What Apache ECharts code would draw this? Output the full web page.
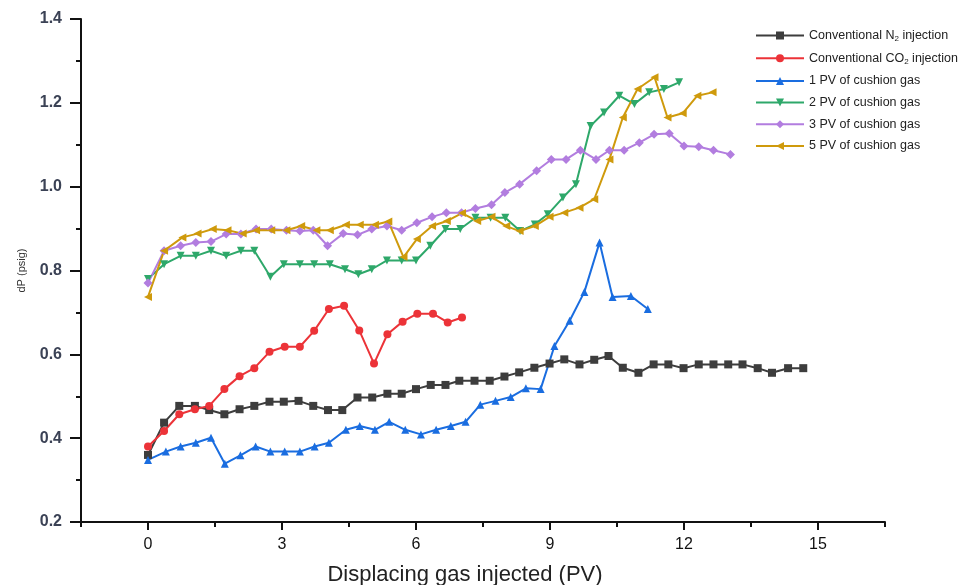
<!DOCTYPE html>
<html>
<head>
<meta charset="utf-8">
<script src="https://cdn.jsdelivr.net/npm/echarts@6/dist/echarts.min.js"></script>
<style>
  html, body { margin: 0; padding: 0; background: #fff; }
  #chart { width: 965px; height: 585px; }
</style>
</head>
<body>
<div id="chart"></div>
<script>
// Pressure drop vs. injected displacing gas
const seriesNames = [
  'Conventional N2 injection',
  'Conventional CO2 injection',
  '1 PV of cushion gas',
  '2 PV of cushion gas',
  '3 PV of cushion gas',
  '5 PV of cushion gas'
];

const n2X = [0, 0.36, 0.70, 1.05, 1.37, 1.71, 2.05, 2.38, 2.72, 3.04, 3.37, 3.70, 4.03, 4.35, 4.69,
  5.02, 5.36, 5.68, 6.00, 6.33, 6.66, 6.97, 7.31, 7.65, 7.98, 8.31, 8.65, 8.99, 9.32, 9.66,
  9.99, 10.31, 10.63, 10.98, 11.32, 11.65, 11.99, 12.33, 12.66, 12.99, 13.31, 13.65, 13.97, 14.33, 14.67];
const n2Y = [0.36, 0.437, 0.477, 0.477, 0.467, 0.457, 0.469, 0.477, 0.487, 0.487, 0.489, 0.477, 0.467, 0.467, 0.497,
  0.497, 0.506, 0.506, 0.517, 0.527, 0.527, 0.537, 0.537, 0.537, 0.547, 0.557, 0.568, 0.578, 0.588, 0.576,
  0.587, 0.596, 0.568, 0.556, 0.576, 0.576, 0.567, 0.576, 0.576, 0.576, 0.576, 0.567, 0.556, 0.567, 0.567];

const co2X = [0, 0.36, 0.70, 1.05, 1.37, 1.71, 2.05, 2.38, 2.72, 3.06, 3.40, 3.72, 4.05, 4.39, 4.73,
  5.06, 5.36, 5.70, 6.03, 6.38, 6.71, 7.03];
const co2Y = [0.38, 0.417, 0.457, 0.469, 0.477, 0.517, 0.548, 0.567, 0.606, 0.618, 0.618, 0.656, 0.708, 0.716, 0.657,
  0.578, 0.648, 0.678, 0.697, 0.697, 0.676, 0.688];

const pv1X = [0, 0.40, 0.73, 1.07, 1.41, 1.72, 2.07, 2.41, 2.74, 3.06, 3.40, 3.73, 4.05, 4.43, 4.74,
  5.08, 5.40, 5.76, 6.11, 6.45, 6.78, 7.11, 7.44, 7.78, 8.12, 8.46, 8.79, 9.10, 9.44, 9.77,
  10.11, 10.40, 10.81, 11.19];
const pv1Y = [0.348, 0.368, 0.380, 0.389, 0.401, 0.339, 0.359, 0.380, 0.368, 0.368, 0.368, 0.380, 0.389, 0.420, 0.429,
  0.420, 0.439, 0.420, 0.409, 0.420, 0.429, 0.439, 0.480, 0.489, 0.498, 0.519, 0.517, 0.620, 0.680, 0.749,
  0.867, 0.737, 0.739, 0.708];

const pv2X = [0, 0.36, 0.73, 1.07, 1.41, 1.75, 2.08, 2.38, 2.74, 3.04, 3.40, 3.72, 4.07, 4.41, 4.71,
  5.01, 5.35, 5.68, 6.00, 6.32, 6.66, 6.99, 7.33, 7.67, 8.00, 8.33, 8.66, 8.95, 9.29, 9.58,
  9.91, 10.21, 10.55, 10.89, 11.22, 11.55, 11.89];
const pv2Y = [0.78, 0.815, 0.835, 0.835, 0.847, 0.835, 0.847, 0.847, 0.785, 0.815, 0.815, 0.815, 0.815, 0.803, 0.791,
  0.803, 0.824, 0.824, 0.824, 0.859, 0.899, 0.899, 0.926, 0.926, 0.926, 0.894, 0.910, 0.934, 0.974, 1.006,
  1.145, 1.177, 1.217, 1.197, 1.225, 1.233, 1.249];

const pv3X = [0, 0.36, 0.73, 1.07, 1.41, 1.75, 2.08, 2.42, 2.76, 3.10, 3.40, 3.70, 4.02, 4.37, 4.69,
  5.01, 5.35, 5.68, 6.02, 6.36, 6.68, 7.02, 7.33, 7.69, 7.99, 8.32, 8.70, 9.03, 9.36, 9.68,
  10.03, 10.33, 10.66, 11.00, 11.33, 11.67, 12.00, 12.33, 12.66, 13.04];
const pv3Y = [0.77, 0.847, 0.859, 0.867, 0.869, 0.887, 0.887, 0.899, 0.899, 0.896, 0.894, 0.896, 0.859, 0.888, 0.885,
  0.899, 0.906, 0.896, 0.914, 0.928, 0.938, 0.938, 0.948, 0.957, 0.986, 1.006, 1.038, 1.065, 1.065, 1.087,
  1.065, 1.087, 1.087, 1.105, 1.125, 1.127, 1.097, 1.095, 1.087, 1.077];

const pv5X = [0, 0.36, 0.77, 1.11, 1.45, 1.78, 2.12, 2.42, 2.76, 3.10, 3.43, 3.77, 4.07, 4.43, 4.74,
  5.08, 5.38, 5.72, 6.02, 6.36, 6.69, 7.03, 7.37, 7.69, 8.02, 8.32, 8.66, 8.99, 9.32, 9.66,
  9.99, 10.33, 10.63, 10.96, 11.34, 11.63, 11.97, 12.30, 12.64];
const pv5Y = [0.737, 0.847, 0.879, 0.888, 0.899, 0.896, 0.888, 0.896, 0.896, 0.896, 0.906, 0.896, 0.896, 0.909, 0.909,
  0.909, 0.917, 0.832, 0.875, 0.906, 0.918, 0.937, 0.918, 0.928, 0.906, 0.894, 0.906, 0.928, 0.938, 0.950,
  0.970, 1.065, 1.165, 1.233, 1.261, 1.165, 1.175, 1.217, 1.225];

const xMajorTicks = [0, 3, 6, 9, 12, 15];
const xMinorTicks = [-1.5, 1.5, 4.5, 7.5, 10.5, 13.5, 16.5];

const colors = ['#3d3d3d', '#ec3338', '#1a6de0', '#2ea86a', '#b27ddf', '#cf9a0c'];
const symbols = ['rect', 'circle', 'triangle', 'triangle', 'diamond', 'triangle'];
const rotations = [0, 0, 0, 180, 0, 90];
const xs = [n2X, co2X, pv1X, pv2X, pv3X, pv5X];
const ys = [n2Y, co2Y, pv1Y, pv2Y, pv3Y, pv5Y];

const sans = "'Liberation Sans', Arial, sans-serif";

const series = seriesNames.map((name, i) => ({
  name: name,
  type: 'line',
  xAxisIndex: 0,
  data: xs[i].map((x, j) => [x, ys[i][j]]),
  symbol: symbols[i],
  symbolRotate: rotations[i],
  symbolSize: symbols[i] === 'diamond' ? 9 : 8,
  lineStyle: { color: colors[i], width: 2 },
  itemStyle: { color: colors[i] },
  emphasis: { disabled: true }
}));

const chart = echarts.init(document.getElementById('chart'), null, { renderer: 'canvas' });
chart.setOption({
  animation: false,
  backgroundColor: '#fff',
  grid: { left: 81, right: 80, top: 19, bottom: 63, containLabel: false, outerBoundsMode: 'none' },
  legend: {
    orient: 'vertical',
    left: 750,
    top: 24,
    itemWidth: 48,
    itemHeight: 10,
    itemGap: 8.7,
    data: seriesNames,
    formatter: function (name) {
      return name.replace('N2', 'N{sub|2}').replace('CO2', 'CO{sub|2}');
    },
    textStyle: {
      fontFamily: sans,
      fontSize: 12.5,
      color: '#222',
      rich: {
        sub: { fontFamily: sans, fontSize: 8, color: '#222', padding: [7, 0, 0, 0] }
      }
    }
  },
  xAxis: [
    {
      type: 'value',
      min: -1.5,
      max: 16.5,
      name: 'Displacing gas injected (PV)',
      nameLocation: 'middle',
      nameGap: 42,
      nameTextStyle: { fontFamily: sans, fontSize: 22, color: '#222', padding: [0, 36, 0, 0] },
      splitLine: { show: false },
      axisLine: { onZero: false, lineStyle: { color: '#111', width: 2 } },
      axisTick: { customValues: xMajorTicks, length: 8, lineStyle: { color: '#111', width: 2 } },
      axisLabel: {
        customValues: xMajorTicks,
        margin: 15,
        fontFamily: sans,
        fontSize: 16,
        color: '#111'
      }
    },
    {
      type: 'value',
      min: -1.5,
      max: 16.5,
      position: 'bottom',
      splitLine: { show: false },
      axisLine: { show: false, onZero: false },
      axisTick: { customValues: xMinorTicks, length: 5, lineStyle: { color: '#111', width: 2 } },
      axisLabel: { show: false }
    }
  ],
  yAxis: {
    type: 'value',
    min: 0.2,
    max: 1.4,
    interval: 0.2,
    name: 'dP (psig)',
    nameLocation: 'middle',
    nameGap: 54,
    nameTextStyle: { fontFamily: sans, fontSize: 11, color: '#333' },
    splitLine: { show: false },
    axisLine: { show: true, onZero: false, lineStyle: { color: '#111', width: 2 } },
    axisTick: { show: true, length: 11, lineStyle: { color: '#111', width: 2 } },
    minorTick: { show: true, splitNumber: 2, length: 5, lineStyle: { color: '#111', width: 2 } },
    axisLabel: {
      margin: 19,
      fontFamily: sans,
      fontSize: 16,
      fontWeight: 'bold',
      color: '#3b4255',
      formatter: v => v.toFixed(1)
    }
  },
  series: series
});
</script>
</body>
</html>
